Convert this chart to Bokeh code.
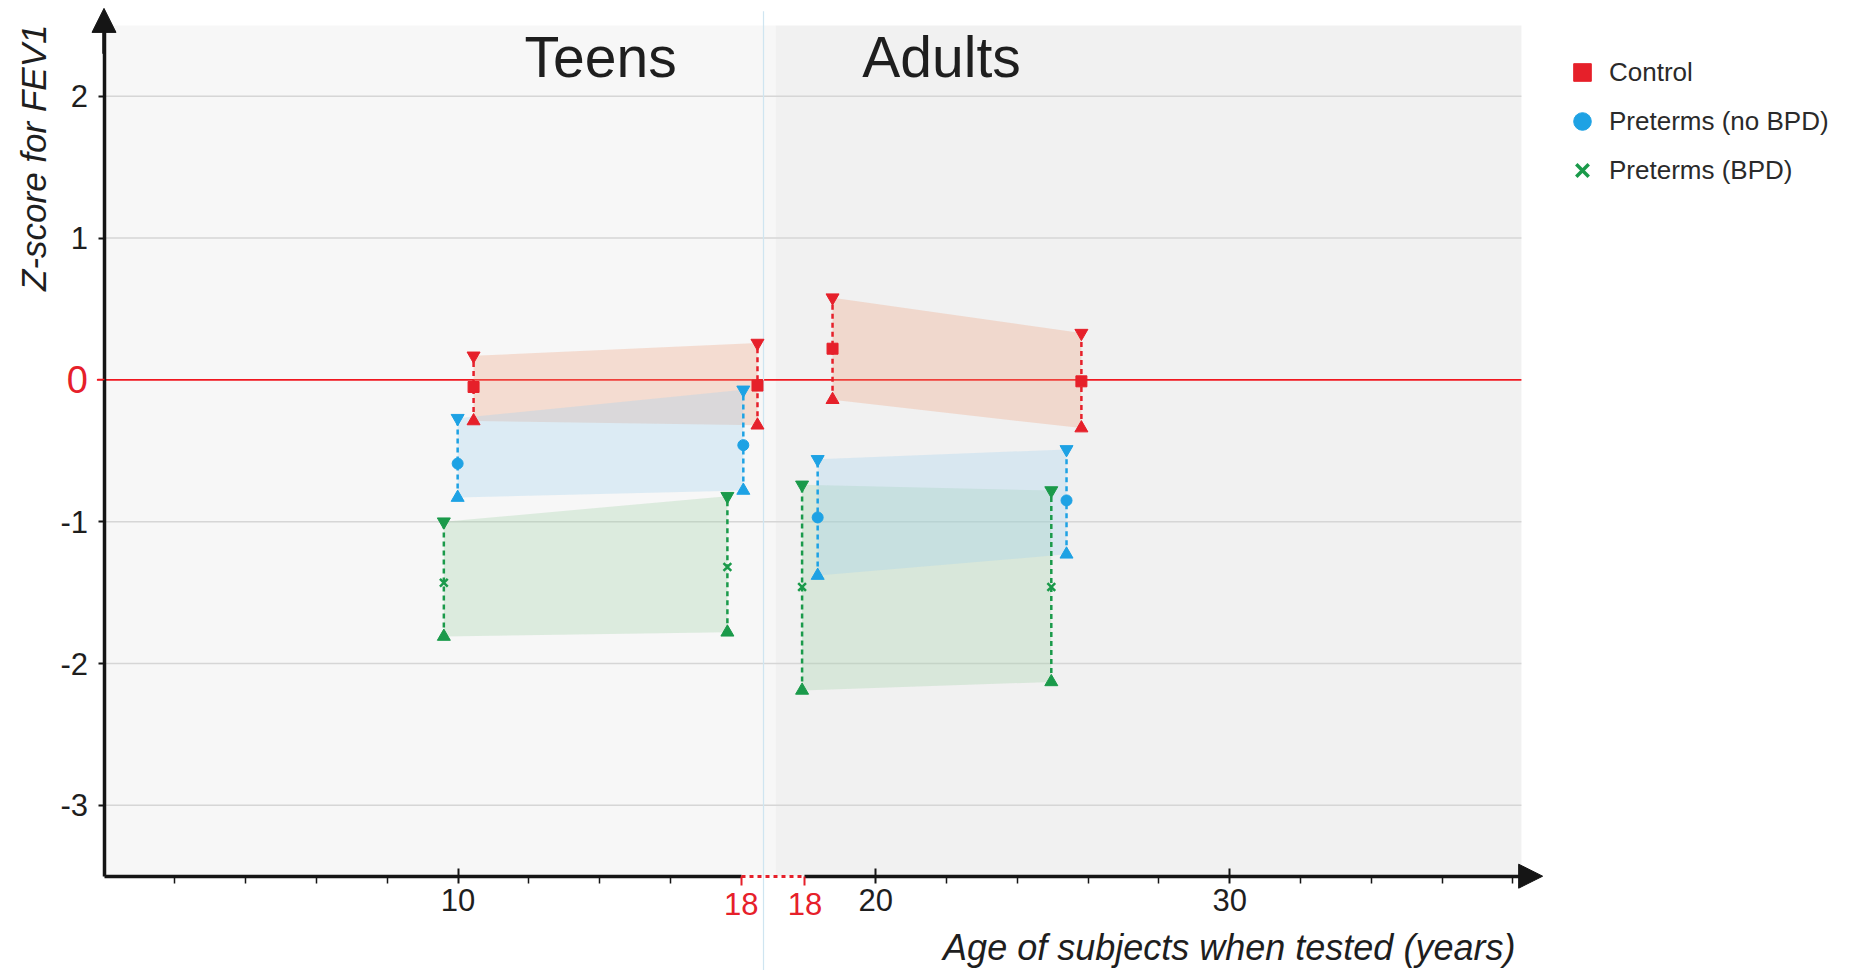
import math
from bokeh.plotting import figure
from bokeh.models import (Range1d, LinearAxis, FixedTicker, Label, Legend, LegendItem,
                          Arrow, NormalHead)
from bokeh.embed import file_html
from bokeh.resources import INLINE

# ---------------- data ----------------
cohort = ["Teens", "Teens", "Adults", "Adults"]

control_age = [10.44, 18.46, 18.78, 25.81]
control_mean = [-0.05, -0.04, 0.22, -0.01]
control_upper = [0.17, 0.26, 0.58, 0.33]
control_lower = [-0.29, -0.32, -0.14, -0.34]

nobpd_age = [9.99, 18.06, 18.36, 25.39]
nobpd_mean = [-0.59, -0.46, -0.97, -0.85]
nobpd_upper = [-0.27, -0.07, -0.56, -0.49]
nobpd_lower = [-0.83, -0.78, -1.38, -1.23]

bpd_age = [9.60, 17.61, 17.92, 24.96]
bpd_mean = [-1.43, -1.32, -1.46, -1.46]
bpd_upper = [-1.00, -0.82, -0.74, -0.78]
bpd_lower = [-1.81, -1.78, -2.19, -2.13]

series_names = ["Control", "Preterms (no BPD)", "Preterms (BPD)"]

y_ticks = [-3, -2, -1, 0, 1, 2]
teen_tick_ages = [2, 4, 6, 8, 10, 12, 14, 16]
teen_labeled = [10]
adult_tick_ages = [20, 22, 24, 26, 28, 30, 32, 34, 36, 38]
adult_labeled = [20, 30]
break_age = 18
panel_titles = ["Teens", "Adults"]

# ---------------- layout constants ----------------
ADULT_SHIFT = 1.8          # width of the break in the age axis (years)
SPLIT_LINE = 18.63         # thin line between the two panels
ADULT_BG_START = 18.97
BG_END = 40.04
BG_TOP = 2.5
Y_BOTTOM = -3.5
ARROW_TOP = 2.62

W, H = 1856, 970
PX_PER_YEAR = 35.4
PX_PER_Z = 141.8
x_start = -103.5 / PX_PER_YEAR
x_end = x_start + W / PX_PER_YEAR
y_end = 379.4 / PX_PER_Z
y_start = y_end - H / PX_PER_Z

RED = "#e6202a"
BLUE = "#1ea2e4"
GREEN = "#1a9a4a"
FONT = "Liberation Sans"
TXT = "#1e1e1e"


def plot_x(ages):
    return [a + (ADULT_SHIFT if c == "Adults" else 0.0) for a, c in zip(ages, cohort)]


p = figure(width=W, height=H, x_range=Range1d(x_start, x_end), y_range=Range1d(y_start, y_end),
           x_axis_location=None, y_axis_location=None, toolbar_location=None,
           output_backend="svg", min_border=0, outline_line_color=None,
           background_fill_color="white", border_fill_color="white")
for g in p.grid:
    g.visible = False

# backgrounds
p.quad(left=[0, ADULT_BG_START], right=[ADULT_BG_START, BG_END], bottom=Y_BOTTOM, top=BG_TOP,
       fill_color=["#f7f7f7", "#f1f1f1"], line_color=None)

# grid lines and zero line
grid_vals = [t for t in y_ticks if t != 0]
p.segment(x0=0, x1=BG_END, y0=grid_vals, y1=grid_vals, line_color="#d6d6d6", line_width=1.5)
p.segment(x0=[-0.2], x1=[BG_END], y0=[0], y1=[0], line_color="#f01820", line_width=1.6)
p.segment(x0=[SPLIT_LINE], x1=[SPLIT_LINE], y0=[y_start], y1=[BG_TOP + 0.1], line_color="#cfe5f1",
          line_width=1.2)

groups = [
    ("Preterms (BPD)", bpd_age, bpd_mean, bpd_upper, bpd_lower, GREEN, "x", (160, 210, 164)),
    ("Control", control_age, control_mean, control_upper, control_lower, RED, "square", (240, 160, 122)),
    ("Preterms (no BPD)", nobpd_age, nobpd_mean, nobpd_upper, nobpd_lower, BLUE, "circle", (160, 208, 240)),
]

# bands
for name, age, mean, up, lo, col, mk, band in groups:
    xs_all = plot_x(age)
    xs, ys = [], []
    for coh in panel_titles:
        i1, i2 = [i for i, c in enumerate(cohort) if c == coh]
        xs.append([xs_all[i1], xs_all[i2], xs_all[i2], xs_all[i1]])
        ys.append([up[i1], up[i2], lo[i2], lo[i1]])
    p.patches(xs=xs, ys=ys, fill_color="rgb(%d,%d,%d)" % band, fill_alpha=0.3, line_color=None)

# error bars and markers
for name, age, mean, up, lo, col, mk, band in groups:
    xs = plot_x(age)
    p.segment(x0=xs, x1=xs, y0=lo, y1=up, line_color=col, line_width=2.5, line_dash="5 4")
    p.scatter(x=xs, y=up, marker="inverted_triangle", size=13, fill_color=col, line_color=col)
    p.scatter(x=xs, y=lo, marker="triangle", size=13, fill_color=col, line_color=col)
    if mk == "x":
        p.scatter(x=xs, y=mean, marker="x", size=11, line_color=col, line_width=2.5)
    elif mk == "circle":
        p.scatter(x=xs, y=mean, marker="circle", size=11, fill_color=col, line_color=col)
    else:
        p.scatter(x=xs, y=mean, marker="square", size=11, fill_color=col, line_color=col)

# ---------------- axes ----------------
def style_axis(ax, size="31px", color=TXT):
    ax.major_label_text_font = FONT
    ax.major_label_text_font_size = size
    ax.major_label_text_color = color


yax = LinearAxis(fixed_location=0, ticker=FixedTicker(ticks=grid_vals), bounds=(Y_BOTTOM, 2.5),
                 major_label_overrides={t: str(t) for t in grid_vals},
                 axis_line_width=3.5, axis_line_color="#151515", major_tick_out=6, major_tick_in=0,
                 major_tick_line_width=2, major_tick_line_color="#151515", minor_tick_line_color=None,
                 major_label_standoff=10)
style_axis(yax)
p.add_layout(yax, "left")

yax0 = LinearAxis(fixed_location=0, ticker=FixedTicker(ticks=[0]), axis_line_color=None,
                  major_tick_out=7, major_tick_in=0, major_tick_line_color="#f01820",
                  major_tick_line_width=1.6, minor_tick_line_color=None, major_label_standoff=9,
                  major_label_overrides={0: "0"})
style_axis(yax0, "38px", RED)
p.add_layout(yax0, "left")

teen_ax = LinearAxis(fixed_location=Y_BOTTOM, bounds=(0, break_age),
                     ticker=FixedTicker(ticks=teen_labeled,
                                        minor_ticks=[t for t in teen_tick_ages if t not in teen_labeled]),
                     major_label_overrides={t: str(t) for t in teen_labeled},
                     axis_line_width=3.5, axis_line_color="#151515",
                     major_tick_in=8, major_tick_out=7, major_tick_line_width=2,
                     major_tick_line_color="#151515", minor_tick_in=0, minor_tick_out=7,
                     minor_tick_line_width=1.5, minor_tick_line_color="#151515",
                     major_label_standoff=6)
style_axis(teen_ax)
p.add_layout(teen_ax, "below")

adult_major = [a + ADULT_SHIFT for a in adult_labeled]
adult_ax = LinearAxis(fixed_location=Y_BOTTOM, bounds=(break_age + ADULT_SHIFT, 40.3),
                      ticker=FixedTicker(ticks=adult_major,
                                         minor_ticks=[a + ADULT_SHIFT for a in adult_tick_ages
                                                      if a not in adult_labeled]),
                      major_label_overrides={a + ADULT_SHIFT: str(a) for a in adult_labeled},
                      axis_line_width=3.5, axis_line_color="#151515",
                      major_tick_in=8, major_tick_out=7, major_tick_line_width=2,
                      major_tick_line_color="#151515", minor_tick_in=0, minor_tick_out=7,
                      minor_tick_line_width=1.5, minor_tick_line_color="#151515",
                      major_label_standoff=6)
style_axis(adult_ax)
p.add_layout(adult_ax, "below")

break_ticks = [break_age, break_age + ADULT_SHIFT]
break_ax = LinearAxis(fixed_location=Y_BOTTOM, bounds=(break_age, break_age + ADULT_SHIFT),
                      ticker=FixedTicker(ticks=break_ticks),
                      major_label_overrides={t: str(break_age) for t in break_ticks},
                      axis_line_width=3, axis_line_color=RED, axis_line_dash="4 4",
                      major_tick_in=0, major_tick_out=9, major_tick_line_width=2,
                      major_tick_line_color=RED, minor_tick_line_color=None,
                      major_label_standoff=8)
style_axis(break_ax, "31px", RED)
p.add_layout(break_ax, "below")

# axis arrowheads
p.add_layout(Arrow(end=NormalHead(size=24, fill_color="#151515", line_color="#151515"),
                   x_start=0, y_start=2.3, x_end=0, y_end=ARROW_TOP, line_width=3.5, line_color="#151515"))
p.add_layout(Arrow(end=NormalHead(size=24, fill_color="#151515", line_color="#151515"),
                   x_start=40.0, y_start=Y_BOTTOM, x_end=40.64, y_end=Y_BOTTOM,
                   line_width=3.5, line_color="#151515"))

# axis titles and panel titles
p.add_layout(Label(x=39.87, y=-4.005, text="Age of subjects when tested (years)", text_align="right",
                   text_baseline="alphabetic", text_font=FONT, text_font_size="36px",
                   text_font_style="italic", text_color=TXT))
p.add_layout(Label(x=-1.99, y=2.506, text="Z-score for FEV1", angle=math.pi / 2, text_align="right",
                   text_baseline="alphabetic", text_font=FONT, text_font_size="35px",
                   text_font_style="italic", text_color=TXT))
for title, cx in zip(panel_titles, [14.03, 23.66]):
    p.add_layout(Label(x=cx, y=2.274, text=title, text_align="center", text_baseline="alphabetic",
                       text_font=FONT, text_font_size="57px", text_color=TXT))

# legend (one off-screen point per entry so that the legend glyphs are drawn)
leg_specs = [("Control", "square", RED), ("Preterms (no BPD)", "circle", BLUE), ("Preterms (BPD)", "x", GREEN)]
items = []
for name, mk, col in leg_specs:
    r = p.scatter(x=[x_start - 50], y=[y_start - 50], marker=mk, size=18, fill_color=col, line_color=col,
                  line_width=(3.5 if mk == "x" else 1))
    items.append(LegendItem(label=name, renderers=[r]))
legend = Legend(items=items, location=(1560, 778), orientation="vertical",
                glyph_width=44, glyph_height=44, spacing=5, padding=0, margin=0, label_standoff=5,
                label_text_font=FONT, label_text_font_size="26px", label_text_color="#2a2a2a",
                border_line_color=None, background_fill_alpha=0)
p.add_layout(legend)

open("out.html", "w").write(file_html(p, INLINE))
